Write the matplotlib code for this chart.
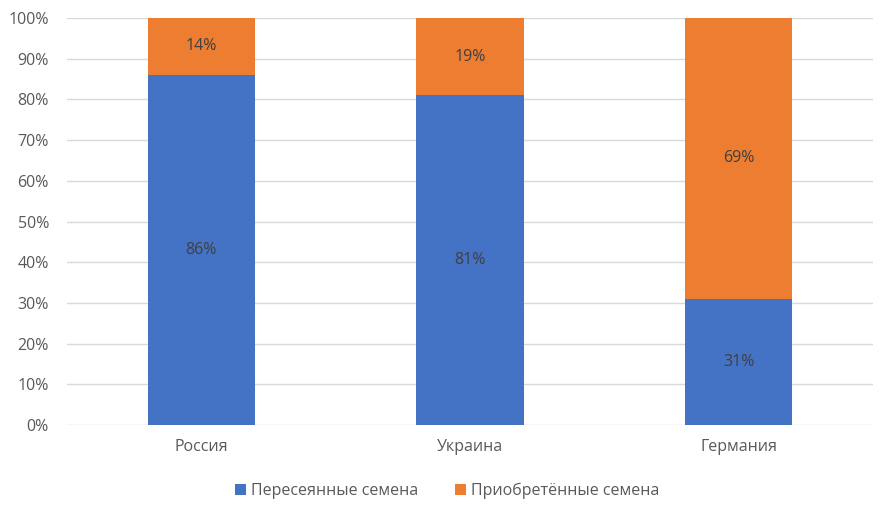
import matplotlib
matplotlib.use('Agg')
import matplotlib.pyplot as plt
import numpy as np

plt.rcParams['font.family'] = ['Open Sans', 'DejaVu Sans']

countries = ['Россия', 'Украина', 'Германия']
resown = [86, 81, 31]
bought = [14, 19, 69]
series_names = ['Пересеянные семена', 'Приобретённые семена']

blue = '#4472C4'
orange = '#ED7D31'
text_c = '#595959'

fig = plt.figure(figsize=(8.94, 5.16), dpi=100)
ax = fig.add_axes([67 / 894, 1 - 425 / 516, 806 / 894, 407 / 516])

x = np.arange(len(countries))
b1 = ax.bar(x, resown, width=0.4, color=blue, label=series_names[0], zorder=2)
b2 = ax.bar(x, bought, width=0.4, bottom=resown, color=orange,
            label=series_names[1], zorder=2)

for bars, vals in ((b1, resown), (b2, bought)):
    for rect, v in zip(bars, vals):
        ax.text(rect.get_x() + rect.get_width() / 2, rect.get_y() + v / 2,
                '{}%'.format(v), ha='center', va='center', fontsize=11.5,
                color='#404040')

ax.set_xlim(-0.5, len(countries) - 0.5)
ax.set_ylim(0, 100)
ax.set_yticks(np.arange(0, 101, 10))
ax.set_yticklabels(['{}%'.format(t) for t in range(0, 101, 10)])
ax.set_xticks(x)
ax.set_xticklabels(countries)
ax.tick_params(axis='both', length=0, labelsize=11.5, labelcolor=text_c)
ax.tick_params(axis='y', pad=13)
ax.tick_params(axis='x', pad=10)
ax.yaxis.grid(True, color='#D9D9D9', linewidth=1, zorder=0)
for s in ax.spines.values():
    s.set_visible(False)

fig.legend(handles=[b1, b2], loc='center', bbox_to_anchor=(0.5, 1 - 491 / 516),
           ncol=2, frameon=False, fontsize=11.5, labelcolor=text_c,
           handlelength=0.7, handleheight=0.7, handletextpad=0.3, columnspacing=2.3)

fig.savefig('out.png', dpi=100, facecolor='white')
